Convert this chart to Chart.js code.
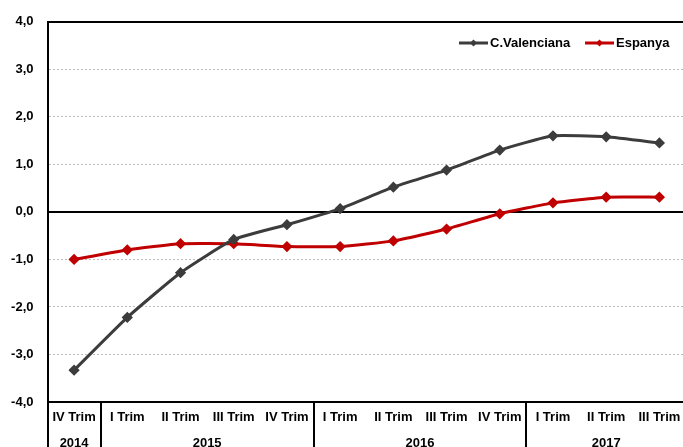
<!DOCTYPE html>
<html lang="ca">
<head>
  <meta charset="UTF-8" />
  <title>C.Valenciana - Espanya</title>
  <script src="https://cdn.jsdelivr.net/npm/chart.js"></script>
  <style>
    html, body { margin: 0; padding: 0; background: #fff; overflow: hidden; }
    #wrap { width: 693px; height: 447px; }
  </style>
</head>
<body>
  <div id="wrap"><canvas id="chart" width="693" height="447"></canvas></div>
  <script>
    // dades
    const quarters = ['IV Trim', 'I Trim', 'II Trim', 'III Trim', 'IV Trim', 'I Trim', 'II Trim', 'III Trim', 'IV Trim', 'I Trim', 'II Trim', 'III Trim'];
    const yearLabels = ['2014', '2015', '2016', '2017'];
    const yearSpans = [1, 4, 4, 3];
    const cValenciana = [-3.33, -2.22, -1.28, -0.58, -0.27, 0.07, 0.52, 0.88, 1.30, 1.60, 1.58, 1.45];
    const espanya = [-1.0, -0.8, -0.67, -0.67, -0.73, -0.73, -0.61, -0.36, -0.04, 0.19, 0.31, 0.31];

    const FONT = '"Liberation Sans", Arial, sans-serif';

    // linies negres (zero i vora superior) + eix de dos nivells
    const framePlugin = {
      id: 'frame',
      beforeDatasetsDraw(chart) {
        const { ctx, chartArea, scales } = chart;
        ctx.save();
        ctx.strokeStyle = '#000';
        ctx.lineWidth = 2;
        [0, 4].forEach(v => {
          const y = Math.round(scales.y.getPixelForValue(v));
          ctx.beginPath();
          ctx.moveTo(chartArea.left, y);
          ctx.lineTo(chartArea.right, y);
          ctx.stroke();
        });
        ctx.restore();
      },
      afterDraw(chart) {
        const { ctx, chartArea, scales } = chart;
        const x = scales.x;
        const bottom = chart.height;
        ctx.save();
        ctx.strokeStyle = '#000';
        ctx.lineWidth = 2;
        // separadors d'anys
        let idx = 0;
        const bounds = [chartArea.left];
        yearSpans.forEach((n, i) => {
          idx += n;
          if (idx < quarters.length) {
            bounds.push((x.getPixelForValue(idx - 1) + x.getPixelForValue(idx)) / 2);
          } else {
            bounds.push(chartArea.right);
          }
        });
        bounds.forEach(bx => {
          ctx.beginPath();
          ctx.moveTo(Math.round(bx), chartArea.bottom);
          ctx.lineTo(Math.round(bx), bottom);
          ctx.stroke();
        });
        ctx.fillStyle = '#000';
        ctx.font = 'bold 13px ' + FONT;
        ctx.textAlign = 'center';
        ctx.textBaseline = 'middle';
        yearLabels.forEach((lab, i) => {
          ctx.fillText(lab, (bounds[i] + bounds[i + 1]) / 2, 443);
        });

        // llegenda dins l'area
        const items = [
          { label: 'C.Valenciana', color: '#3c3c3c', x: 459 },
          { label: 'Espanya', color: '#c00000', x: 585 }
        ];
        const ly = 43;
        ctx.textAlign = 'left';
        items.forEach(it => {
          ctx.strokeStyle = it.color;
          ctx.lineWidth = 3;
          ctx.beginPath();
          ctx.moveTo(it.x, ly);
          ctx.lineTo(it.x + 29, ly);
          ctx.stroke();
          ctx.fillStyle = it.color;
          ctx.beginPath();
          ctx.moveTo(it.x + 14.5, ly - 3.5);
          ctx.lineTo(it.x + 18, ly);
          ctx.lineTo(it.x + 14.5, ly + 3.5);
          ctx.lineTo(it.x + 11, ly);
          ctx.closePath();
          ctx.fill();
          ctx.fillStyle = '#000';
          ctx.fillText(it.label, it.x + 31, ly);
        });
        ctx.restore();
      }
    };

    new Chart(document.getElementById('chart'), {
      type: 'line',
      data: {
        labels: quarters,
        datasets: [
          {
            label: 'C.Valenciana',
            data: cValenciana,
            borderColor: '#3c3c3c',
            backgroundColor: '#3c3c3c',
            borderWidth: 3,
            pointStyle: 'rectRot',
            pointRadius: 3.5,
            tension: 0.15
          },
          {
            label: 'Espanya',
            data: espanya,
            borderColor: '#c00000',
            backgroundColor: '#c00000',
            borderWidth: 3,
            pointStyle: 'rectRot',
            pointRadius: 3.5,
            tension: 0.15
          }
        ]
      },
      options: {
        responsive: false,
        animation: false,
        layout: { padding: { top: 20, left: 0, right: 0, bottom: 0 } },
        plugins: {
          legend: { display: false },
          tooltip: { enabled: false }
        },
        scales: {
          x: {
            offset: true,
            grid: { display: false, drawTicks: false },
            border: { display: true, color: '#000', width: 2 },
            ticks: {
              color: '#000',
              font: { family: FONT, size: 13, weight: 'bold' },
              maxRotation: 0,
              autoSkip: false,
              padding: 8
            },
            afterFit(scale) { scale.height = 45; }
          },
          y: {
            min: -4,
            max: 4,
            grid: {
              color: ctx => (ctx.tick.value === 0 || Math.abs(ctx.tick.value) === 4) ? 'rgba(0,0,0,0)' : '#bdbdbd',
              lineWidth: 1,
              drawTicks: false
            },
            border: { display: true, color: '#000', width: 2, dash: [2, 2] },
            ticks: {
              stepSize: 1,
              color: '#000',
              padding: 14,
              font: { family: FONT, size: 13, weight: 'bold' },
              callback: v => v.toFixed(1).replace('.', ',')
            },
            afterFit(scale) { scale.width = 47.5; }
          }
        }
      },
      plugins: [framePlugin]
    });
  </script>
</body>
</html>
